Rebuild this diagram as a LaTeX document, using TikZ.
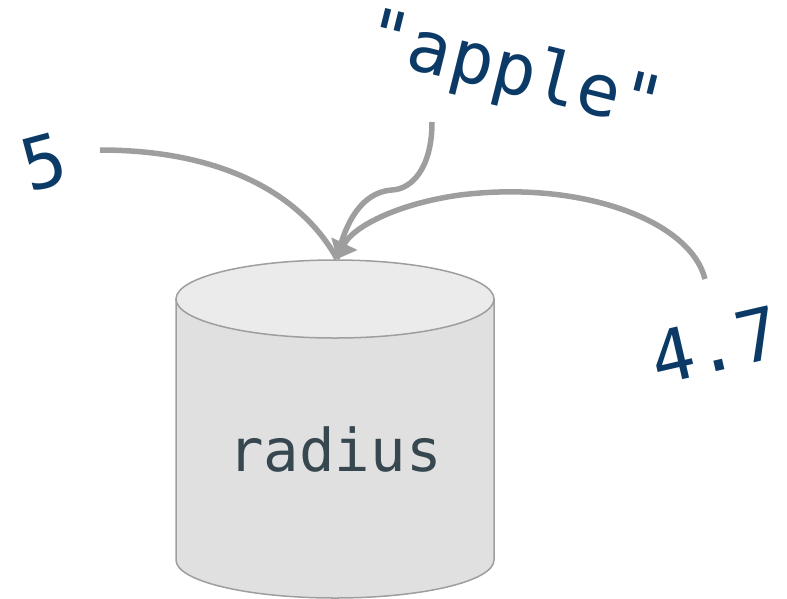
\documentclass[tikz,border=0pt]{standalone}
\usepackage{fontspec}
\setmonofont{DejaVu Sans Mono}
\usetikzlibrary{arrows.meta}
\definecolor{lblue}{RGB}{12,58,102}
\definecolor{rtext}{RGB}{55,71,79}
\definecolor{wire}{RGB}{158,158,158}
\definecolor{cylbody}{RGB}{224,224,224}
\definecolor{cyltop}{RGB}{235,235,235}
\definecolor{cyledge}{RGB}{158,158,158}
\tikzset{
  val/.style={text=lblue, font=\ttfamily\fontsize{72}{82}\selectfont, inner sep=0pt},
  conn/.style={draw=wire, line width=5.5pt},
  tipped/.style={conn, -{Triangle[length=17pt,width=28pt]}},
  cyl/.style={draw=cyledge, line width=1.5pt},
}
\begin{document}
\begin{tikzpicture}[x=1pt,y=-1pt]
\useasboundingbox (0,0) rectangle (787,598);
% cylinder
\path[cyl, fill=cylbody] (176,299) -- (176,560)
  .. controls (176,581) and (247,598) .. (335,598)
  .. controls (423,598) and (494,581) .. (494,560) -- (494,299) -- cycle;
\path[cyl, fill=cyltop] (335,299) ellipse [x radius=159pt, y radius=39pt];
\node[text=rtext, font=\ttfamily\fontsize{59}{68}\selectfont, anchor=base] (rad) at (335,471) {radius};
\coordinate (tip) at (337,259);
% labels
\node[val, rotate=15] (five) at (44,162) {5};
\node[val, rotate=-14] (apple) at (514,74) {"apple"};
\node[val, rotate=13] (four) at (715,345) {4.7};
\coordinate (s5) at (100,150);
\coordinate (sa) at (432,122);
\coordinate (s4) at (705,279);
% connectors
\draw[conn] (s5) .. controls (230,150) and (305,200) .. (tip);
\draw[conn] (sa) .. controls (432,168) and (412,189) .. (392,190)
  .. controls (362,192) and (345,222) .. (tip);
\draw[tipped] (s4) .. controls (690,220) and (580,180) .. (460,195)
  .. controls (395,204) and (352,228) .. (tip);
\end{tikzpicture}
\end{document}
